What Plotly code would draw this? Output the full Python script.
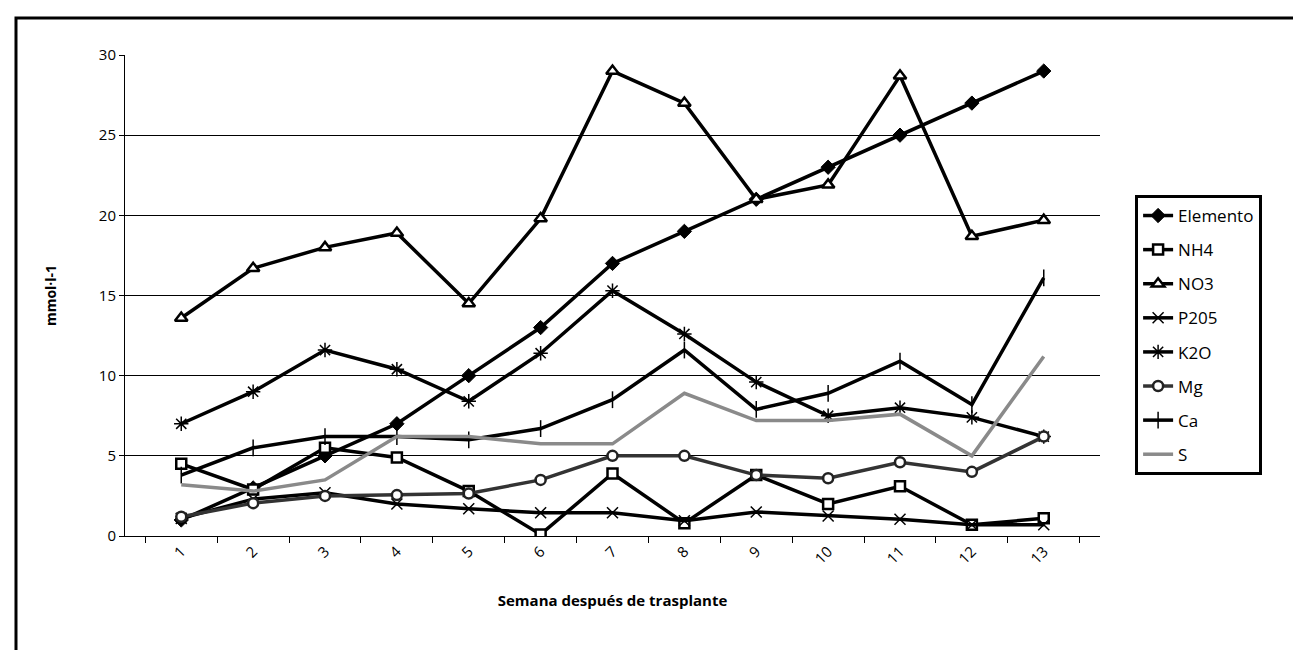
import plotly.graph_objects as go

weeks = ["1", "2", "3", "4", "5", "6", "7", "8", "9", "10", "11", "12", "13"]

elemento = [1.0, 3.0, 5.0, 7.0, 10.0, 13.0, 17.0, 19.0, 21.0, 23.0, 25.0, 27.0, 29.0]
nh4 = [4.5, 2.9, 5.5, 4.9, 2.8, 0.1, 3.9, 0.8, 3.8, 2.0, 3.1, 0.7, 1.1]
no3 = [13.6, 16.7, 18.0, 18.9, 14.5, 19.8, 29.0, 27.0, 21.0, 21.9, 28.7, 18.7, 19.7]
p2o5 = [1.1, 2.3, 2.7, 2.0, 1.7, 1.45, 1.45, 0.95, 1.5, 1.25, 1.05, 0.7, 0.7]
k2o = [7.0, 9.0, 11.6, 10.4, 8.4, 11.4, 15.3, 12.6, 9.6, 7.5, 8.0, 7.4, 6.2]
mg = [1.2, 2.05, 2.5, 2.55, 2.65, 3.5, 5.0, 5.0, 3.8, 3.6, 4.6, 4.0, 6.2]
ca = [3.8, 5.5, 6.2, 6.2, 6.0, 6.7, 8.5, 11.6, 7.9, 8.9, 10.9, 8.2, 16.1]
s = [3.2, 2.8, 3.5, 6.2, 6.2, 5.75, 5.75, 8.9, 7.2, 7.2, 7.6, 5.0, 11.2]

series = [
    ("Elemento", elemento, dict(symbol="diamond", size=11, color="black", line=dict(color="black", width=1)), "black"),
    ("NH4", nh4, dict(symbol="square", size=10, color="white", line=dict(color="black", width=2.5)), "black"),
    ("NO3", no3, dict(symbol="triangle-up", size=11, color="white", line=dict(color="black", width=2.5)), "black"),
    ("P205", p2o5, dict(symbol="x-thin", size=11, color="black", line=dict(color="black", width=1.5)), "black"),
    ("K2O", k2o, dict(symbol="asterisk", size=12, color="black", line=dict(color="black", width=1.5)), "black"),
    ("Mg", mg, dict(symbol="circle", size=10, color="white", line=dict(color="#222", width=2.5)), "#333333"),
    ("Ca", ca, dict(symbol="line-ns", size=12, color="black", line=dict(color="black", width=1.5)), "black"),
    ("S", s, None, "#8a8a8a"),
]

fig = go.Figure()
for i, (name, vals, marker, lc) in enumerate(series):
    kw = dict(x=weeks, y=vals, name=name, legendgroup=name,
              line=dict(color=lc, width=3.5))
    if marker is None:
        kw["mode"] = "lines"
    else:
        kw["mode"] = "lines+markers"
        kw["marker"] = marker
    fig.add_trace(go.Scatter(**kw))

fig.update_layout(
    width=1301, height=650,
    margin=dict(l=117, r=209, t=47, b=122),
    paper_bgcolor="white", plot_bgcolor="white",
    font=dict(family="Open Sans", size=14, color="black"),
    showlegend=True,
    legend=dict(x=1.036, y=0.709, xanchor="left", yanchor="top",
                bordercolor="black", borderwidth=3, bgcolor="white",
                font=dict(family="Open Sans", size=17, color="black"),
                tracegroupgap=9),
    xaxis=dict(type="category", showline=True, linecolor="black", linewidth=1,
               ticks="outside", ticklen=6, tickcolor="black", tickson="boundaries",
               tickangle=-45, showgrid=False, zeroline=False,
               tickfont=dict(size=15),
               title=dict(text="<b>Semana después de trasplante</b>", font=dict(size=15), standoff=28)),
    yaxis=dict(range=[0, 30], dtick=5, showline=True, linecolor="black", linewidth=1,
               ticks="outside", ticklen=5, tickcolor="black",
               showgrid=True, gridcolor="black", gridwidth=1, zeroline=False,
               tickfont=dict(size=15),
               title=dict(text="<b>mmol·l-1</b>", font=dict(size=14), standoff=38)),
    shapes=[dict(type="rect", xref="paper", yref="paper",
                 x0=-0.1118, x1=1.2092, y0=-0.3, y1=1.0769,
                 line=dict(color="black", width=3), fillcolor="rgba(0,0,0,0)", layer="below")],
)

fig.write_html("out.html")
